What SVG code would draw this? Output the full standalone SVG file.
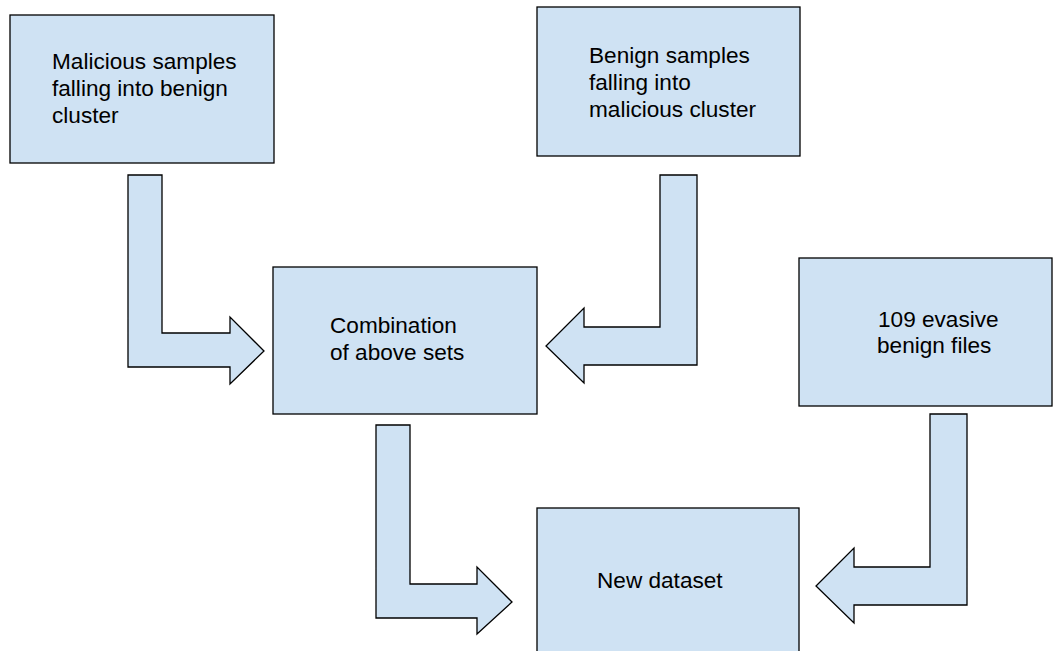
<svg xmlns="http://www.w3.org/2000/svg" width="1053" height="651" viewBox="0 0 1053 651">
<style>
.box{fill:#cfe2f3;stroke:#000;stroke-width:1.3}
.arr{fill:#cfe2f3;stroke:#000;stroke-width:1.3;stroke-linejoin:miter}
.t{font-family:"Liberation Sans",Arial,sans-serif;font-size:22.6px;fill:#000}
</style>
<rect width="1053" height="651" fill="#fff"/>
<g id="connectors">
<polygon class="arr" points="128,175 162,175 162,333 230,333 230,317 264,351 230,384 230,367 128,367"/>
<polygon class="arr" points="660,175 697,175 697,365 584,365 584,383 546,346 584,308 584,327 660,327"/>
<polygon class="arr" points="376,425 410,425 410,584 477,584 477,567 512,602 477,634 477,618 376,618"/>
<polygon class="arr" points="930,414 967,414 967,605 854,605 854,623 816,586 854,548 854,567 930,567"/>
</g>
<g id="node-malicious">
<rect class="box" x="10" y="15" width="264" height="148"/>
<text class="t" x="52" y="69">Malicious samples</text>
<text class="t" x="52" y="96">falling into benign</text>
<text class="t" x="52" y="123">cluster</text>
</g>
<g id="node-benign">
<rect class="box" x="537" y="7" width="263" height="149"/>
<text class="t" x="589" y="63">Benign samples</text>
<text class="t" x="589" y="90">falling into</text>
<text class="t" x="589" y="117">malicious cluster</text>
</g>
<g id="node-combination">
<rect class="box" x="273" y="267" width="264" height="147"/>
<text class="t" x="330" y="333">Combination</text>
<text class="t" x="330" y="360">of above sets</text>
</g>
<g id="node-evasive">
<rect class="box" x="799" y="258" width="253" height="148"/>
<text class="t" x="878" y="327">109 evasive</text>
<text class="t" x="877" y="353">benign files</text>
</g>
<g id="node-new">
<rect class="box" x="537" y="508" width="262" height="160"/>
<text class="t" x="597" y="588">New dataset</text>
</g>
</svg>
